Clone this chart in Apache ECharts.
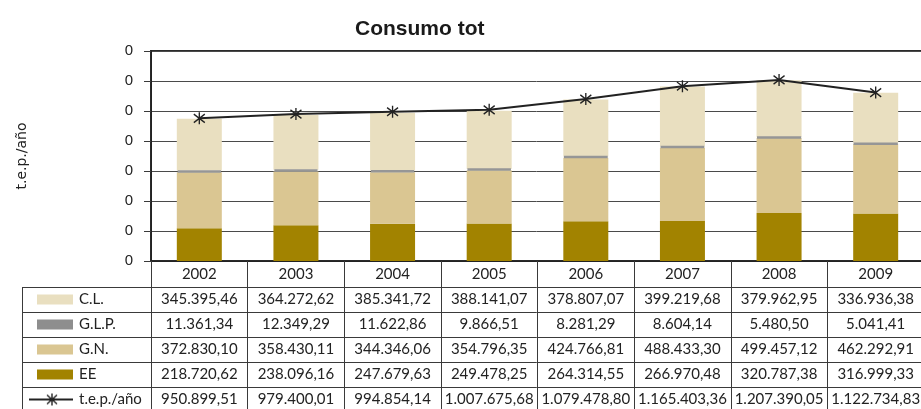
<!DOCTYPE html>
<html><head><meta charset="utf-8">
<script src="https://cdn.jsdelivr.net/npm/echarts@6/dist/echarts.min.js"></script>
<style>html,body{margin:0;padding:0;background:#fff}#c{width:921px;height:409px}</style>
</head><body><div id="c"></div>
<script>
// ---- data ----
const years = ['2002','2003','2004','2005','2006','2007','2008','2009'];
const cl  = [345395.46, 364272.62, 385341.72, 388141.07, 378807.07, 399219.68, 379962.95, 336936.38];
const glp = [11361.34, 12349.29, 11622.86, 9866.51, 8281.29, 8604.14, 5480.50, 5041.41];
const gn  = [372830.10, 358430.11, 344346.06, 354796.35, 424766.81, 488433.30, 499457.12, 462292.91];
const ee  = [218720.62, 238096.16, 247679.63, 249478.25, 264314.55, 266970.48, 320787.38, 316999.33];
const tep = [950899.51, 979400.01, 994854.14, 1007675.68, 1079478.80, 1165403.36, 1207390.05, 1122734.83];
const yTickLabels = ['0','0','0','0','0','0','0','0'];
const rowNames = ['C.L.','G.L.P.','G.N.','EE','t.e.p./año'];

// ---- style / layout ----
const COL = {cl:'#e9dfc0', glp:'#969696', gn:'#dac692', ee:'#a28300', line:'#222222'};
const LINE = '#3a3a3a', TXT = '#222222';
const TF = 'Lato, "Liberation Sans", sans-serif';
const AF = '"Liberation Sans", Arial, sans-serif';
const W = 921, H = 409;
const GRID_LEFT = 151, GRID_TOP = 51, GRID_BOTTOM = 148;
const AXIS_Y = H - GRID_BOTTOM;
const HEADER_H = 26, ROW_H = 25, TABLE_LEFT = 22;

function fmt(v){
  const p = v.toFixed(2).split('.');
  return p[0].replace(/\B(?=(\d{3})+(?!\d))/g, '.') + ',' + p[1];
}

function lineIcon(){
  const c = document.createElement('canvas'); c.width = 44; c.height = 14;
  const g = c.getContext('2d');
  g.strokeStyle = COL.line; g.lineWidth = 2;
  g.beginPath(); g.moveTo(0,7); g.lineTo(44,7); g.stroke();
  g.lineWidth = 1.4;
  g.beginPath();
  g.moveTo(23,1); g.lineTo(23,13);
  g.moveTo(18,2.5); g.lineTo(28,11.5);
  g.moveTo(18,11.5); g.lineTo(28,2.5);
  g.stroke();
  return c;
}

const rows = [
  {name: rowNames[0], data: cl,  color: COL.cl},
  {name: rowNames[1], data: glp, color: '#8e8e8e'},
  {name: rowNames[2], data: gn,  color: COL.gn},
  {name: rowNames[3], data: ee,  color: COL.ee},
  {name: rowNames[4], data: tep, color: null}
];

const tableAxes = rows.map((r, i) => ({
  type: 'category', gridIndex: 0, position: 'bottom',
  offset: HEADER_H + ROW_H * i,
  data: years, boundaryGap: true,
  axisLine: {show: true, lineStyle: {color: LINE, width: 1}},
  axisTick: {show: true, interval: 0, length: ROW_H, lineStyle: {color: LINE, width: 1}},
  axisLabel: {show: true, interval: 0, margin: ROW_H / 2, verticalAlign: 'middle',
    formatter: (v, idx) => fmt(r.data[idx]), color: TXT, fontFamily: TF, fontSize: 15},
  splitLine: {show: false},
  name: r.color ? '{sw|}{t|' + r.name + '}' : '{ic|}{t|' + r.name + '}',
  nameLocation: 'start',
  nameGap: r.color ? GRID_LEFT - 37 : GRID_LEFT - 29,
  nameMoveOverlap: false,
  nameTextStyle: {
    align: 'left', verticalAlign: 'top', lineHeight: ROW_H,
    rich: {
      sw: {width: 36, height: 10, backgroundColor: r.color || '#fff', lineHeight: ROW_H},
      ic: {width: 44, height: 14, backgroundColor: {image: lineIcon()}, lineHeight: ROW_H},
      t: {fontFamily: TF, fontSize: 15, color: TXT, padding: [0,0,0,6], lineHeight: ROW_H}
    }
  }
}));

const chart = echarts.init(document.getElementById('c'), null, {renderer: 'canvas'});

const gfx = [];
for (let i = 0; i < rows.length; i++) {
  const y = AXIS_Y + HEADER_H + ROW_H * i + 0.5;
  gfx.push({type: 'line', shape: {x1: TABLE_LEFT, y1: y, x2: GRID_LEFT, y2: y},
    style: {stroke: LINE, lineWidth: 1}, silent: true});
}
gfx.push({type: 'line', shape: {x1: TABLE_LEFT + 0.5, y1: AXIS_Y + HEADER_H, x2: TABLE_LEFT + 0.5, y2: H + 5},
  style: {stroke: LINE, lineWidth: 1}, silent: true});

chart.setOption({
  animation: false,
  backgroundColor: '#fff',
  title: {text: 'Consumo tot', left: 350, top: 14,
    textStyle: {fontFamily: AF, fontWeight: 'bold', fontSize: 21, color: '#1a1a1a'}},
  grid: {left: GRID_LEFT, right: -3, top: GRID_TOP, bottom: GRID_BOTTOM, containLabel: false,
    outerBoundsMode: 'none', show: true, borderColor: '#2a2a2a', borderWidth: 2, backgroundColor: 'transparent'},
  xAxis: [{
    type: 'category', gridIndex: 0, position: 'bottom', data: years, boundaryGap: true,
    axisLine: {show: true, lineStyle: {color: '#222', width: 1}},
    axisTick: {show: true, interval: 0, length: HEADER_H, lineStyle: {color: LINE, width: 1}},
    axisLabel: {show: true, interval: 0, margin: HEADER_H / 2, verticalAlign: 'middle',
      color: TXT, fontFamily: TF, fontSize: 15},
    splitLine: {show: false}
  }].concat(tableAxes),
  yAxis: {
    type: 'value', min: 0, max: 1400000, interval: 200000,
    name: 't.e.p./año', nameLocation: 'middle', nameGap: 122,
    nameTextStyle: {fontFamily: '"DejaVu Sans", sans-serif', fontSize: 14, color: TXT},
    axisLine: {show: true, lineStyle: {color: '#222', width: 1}},
    axisTick: {show: true, length: 7, lineStyle: {color: LINE, width: 1}},
    axisLabel: {margin: 18, fontFamily: AF, fontSize: 15, color: TXT,
      formatter: (v, i) => yTickLabels[i]},
    splitLine: {show: true, lineStyle: {color: '#4a4a4a', width: 1}}
  },
  series: [
    {name: 'EE', type: 'bar', stack: 'tot', data: ee, barWidth: 45, itemStyle: {color: COL.ee}},
    {name: 'G.N.', type: 'bar', stack: 'tot', data: gn, barWidth: 45, itemStyle: {color: COL.gn}},
    {name: 'G.L.P.', type: 'bar', stack: 'tot', data: glp, barWidth: 44, z: 3,
      itemStyle: {color: COL.glp, borderColor: COL.glp, borderWidth: 2.5}},
    {name: 'C.L.', type: 'bar', stack: 'tot', data: cl, barWidth: 45, itemStyle: {color: COL.cl}},
    {name: 't.e.p./año', type: 'line', data: tep,
      symbol: 'path://M0,-10L0,10M-8,-7L8,7M-8,7L8,-7', symbolSize: [11, 12],
      itemStyle: {color: COL.line, borderColor: COL.line, borderWidth: 1.4},
      lineStyle: {color: COL.line, width: 2}, z: 5}
  ],
  graphic: gfx
});
</script>
</body></html>
